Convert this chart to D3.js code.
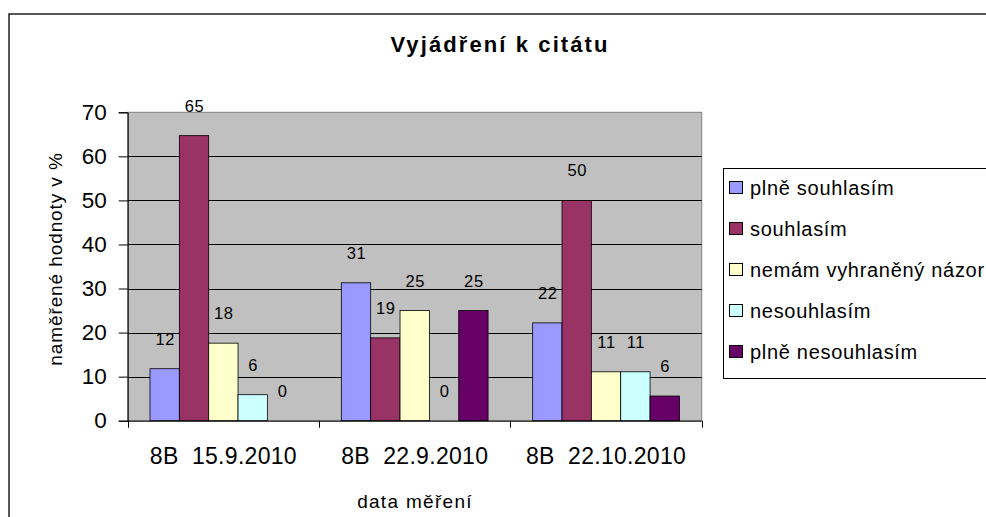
<!DOCTYPE html>
<html>
<head>
<meta charset="utf-8">
<script src="https://cdn.jsdelivr.net/npm/d3@7"></script>
<style>
  html, body { margin: 0; padding: 0; background: #fff; }
  svg { display: block; font-family: "Liberation Sans", Arial, sans-serif; }
  text { white-space: pre; }
</style>
</head>
<body>
<svg id="chart" width="986" height="517"></svg>
<script>
// ---- data ----
const title = "Vyjádření k citátu";
const yAxisTitle = "naměřené hodnoty v %";
const xAxisTitle = "data měření";
const categories = ["8B  15.9.2010", "8B  22.9.2010", "8B  22.10.2010"];
const seriesNames = ["plně souhlasím", "souhlasím", "nemám vyhraněný názor", "nesouhlasím", "plně nesouhlasím"];
const plneSouhlasim   = [11.8, 31.3, 22.2];
const souhlasim       = [64.7, 18.8, 50.0];
const nemamNazor      = [17.6, 25.0, 11.1];
const nesouhlasim     = [5.9, 0, 11.1];
const plneNesouhlasim = [0, 25.0, 5.6];
const seriesValues = [plneSouhlasim, souhlasim, nemamNazor, nesouhlasim, plneNesouhlasim];
const seriesColors = ["#9999FF", "#993366", "#FFFFCC", "#CCFFFF", "#660066"];
const yTicks = [0, 10, 20, 30, 40, 50, 60, 70];

// ---- layout ----
const svg = d3.select("#chart");
const plot = { left: 127.7, right: 701.7, top: 112.3, bottom: 420.7 };

svg.append("rect").attr("width", 986).attr("height", 517).attr("fill", "#fff");
// outer chart border
svg.append("rect").attr("x", 9).attr("y", 14).attr("width", 1100).attr("height", 700)
  .attr("fill", "none").attr("stroke", "#222").attr("stroke-width", 1.5);

const y = d3.scaleLinear().domain([0, 70]).range([plot.bottom, plot.top]);
const x0 = d3.scaleBand().domain(categories).range([plot.left, plot.right]).padding(0);
const x1 = d3.scaleBand().domain(seriesNames).range([0, x0.bandwidth()]).paddingInner(0).paddingOuter(0.76);

// plot background
svg.append("rect")
  .attr("x", plot.left).attr("y", plot.top)
  .attr("width", plot.right - plot.left).attr("height", plot.bottom - plot.top)
  .attr("fill", "#C0C0C0").attr("stroke", "#808080").attr("stroke-width", 1);

// gridlines
svg.append("g").selectAll("line").data(yTicks.filter(d => d > 0 && d < 70)).join("line")
  .attr("x1", plot.left).attr("x2", plot.right)
  .attr("y1", d => Math.round(y(d)) + 0.5).attr("y2", d => Math.round(y(d)) + 0.5)
  .attr("stroke", "#000").attr("stroke-width", 1);

// bars
const data = [];
categories.forEach((c, ci) => seriesNames.forEach((s, si) => data.push({ c, s, si, v: seriesValues[si][ci] })));
svg.append("g").selectAll("rect").data(data).join("rect")
  .attr("x", d => x0(d.c) + x1(d.s))
  .attr("y", d => y(d.v))
  .attr("width", x1.bandwidth())
  .attr("height", d => y(0) - y(d.v))
  .attr("fill", d => seriesColors[d.si])
  .attr("stroke", d => d.v > 0 ? "#000" : "none")
  .attr("stroke-width", 0.8);

// data labels
const fmt = d3.format(".0f");
svg.append("g").selectAll("text").data(data).join("text")
  .attr("x", d => x0(d.c) + x1(d.s) + x1.bandwidth() / 2 + 0.5)
  .attr("y", d => y(d.v) - 24)
  .attr("text-anchor", "middle")
  .attr("font-size", 16.5).attr("letter-spacing", 0.6)
  .attr("fill", "#000")
  .text(d => fmt(d.v));

// y axis
const yAxis = svg.append("g").attr("transform", `translate(${plot.left},0)`)
  .call(d3.axisLeft(y).tickValues(yTicks).tickSize(9).tickPadding(12));
yAxis.select(".domain").attr("stroke", "#000");
yAxis.selectAll(".tick line").attr("stroke", "#000");
yAxis.selectAll(".tick text").attr("font-size", 22.5).attr("font-family", "Liberation Sans, Arial, sans-serif")
  .attr("fill", "#000").attr("dy", "0.3em");

// x axis line and boundary ticks
svg.append("line").attr("x1", plot.left).attr("x2", plot.right)
  .attr("y1", plot.bottom + 0.5).attr("y2", plot.bottom + 0.5).attr("stroke", "#000");
const bounds = categories.map(c => x0(c)).concat([x0(categories[categories.length - 1]) + x0.bandwidth()]);
svg.append("g").selectAll("line").data(bounds).join("line")
  .attr("x1", d => Math.round(d) + 0.5).attr("x2", d => Math.round(d) + 0.5)
  .attr("y1", plot.bottom).attr("y2", plot.bottom + 7).attr("stroke", "#000");

const xAxis = svg.append("g").attr("transform", `translate(0,${plot.bottom})`)
  .call(d3.axisBottom(x0).tickSize(0).tickPadding(27));
xAxis.select(".domain").remove();
xAxis.selectAll(".tick text").attr("font-size", 23).attr("letter-spacing", 0.3)
  .attr("font-family", "Liberation Sans, Arial, sans-serif").attr("fill", "#000");

// titles
svg.append("text").attr("x", 500).attr("y", 52).attr("text-anchor", "middle")
  .attr("font-size", 22).attr("font-weight", "bold").attr("letter-spacing", 2.1)
  .text(title);
svg.append("text").attr("transform", "translate(62,259) rotate(-90)").attr("text-anchor", "middle")
  .attr("font-size", 19).attr("letter-spacing", 0.9)
  .text(yAxisTitle);
svg.append("text").attr("x", 415).attr("y", 508).attr("text-anchor", "middle")
  .attr("font-size", 19).attr("letter-spacing", 1.3)
  .text(xAxisTitle);

// legend
const legend = svg.append("g");
legend.append("rect").attr("x", 723.5).attr("y", 168.5).attr("width", 400).attr("height", 210)
  .attr("fill", "#fff").attr("stroke", "#000").attr("stroke-width", 1);
const items = legend.selectAll("g.item").data(seriesNames).join("g").attr("class", "item")
  .attr("transform", (d, i) => `translate(0,${187.5 + i * 41})`);
items.append("rect").attr("x", 729.5).attr("y", -6).attr("width", 13).attr("height", 12)
  .attr("fill", (d, i) => seriesColors[i]).attr("stroke", "#000").attr("stroke-width", 1);
items.append("text").attr("x", 750).attr("y", 7)
  .attr("font-size", 20).attr("letter-spacing", 0.7).attr("fill", "#000")
  .text(d => d);
</script>
</body>
</html>
